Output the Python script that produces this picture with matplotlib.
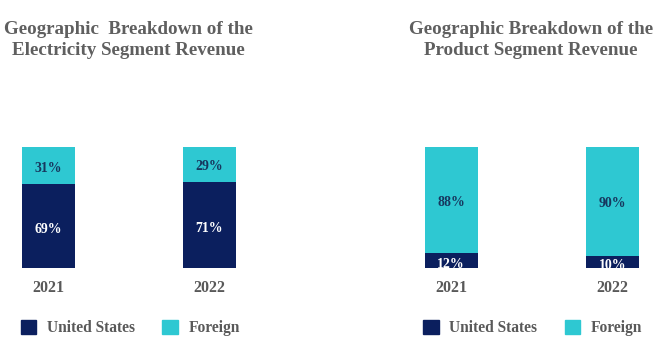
import matplotlib.pyplot as plt
from matplotlib.patches import Patch

# data
years = ["2021", "2022"]
elec_us = [69, 71]
elec_foreign = [31, 29]
prod_us = [12, 10]
prod_foreign = [88, 90]
series_names = ["United States", "Foreign"]
titles = ["Geographic  Breakdown of the\nElectricity Segment Revenue",
          "Geographic Breakdown of the\nProduct Segment Revenue"]

navy = "#0b1f5e"
cyan = "#2ec8d2"
gray = "#595959"
font = "Liberation Serif"

W, H = 666, 354
fig = plt.figure(figsize=(W / 100, H / 100), dpi=100)
plt.rcParams['font.family'] = [font, 'DejaVu Serif']
plt.rcParams['font.weight'] = 'bold'

spacing = 161.5   # px between bar centres
bar_w = 53 / spacing


def make_panel(first_center, us, foreign, title, title_x, leg_x):
    left_px = first_center - 40
    width_px = 240
    bottom_px, top_px = 268, 146.5
    ax = fig.add_axes([left_px / W, (H - bottom_px) / H,
                       width_px / W, (bottom_px - top_px) / H])
    x = [0, 1]
    ax.bar(x, us, width=bar_w, color=navy)
    ax.bar(x, foreign, width=bar_w, bottom=us, color=cyan)
    for i in x:
        t = ax.annotate(f"{us[i]}%", (i, us[i] / 2), xytext=(0, -2.5),
                        textcoords="offset points", ha="center", va="center",
                        color="white", fontsize=10, fontweight="bold")
        t.set_clip_on(True)
        t.set_clip_box(ax.bbox)
        ax.annotate(f"{foreign[i]}%", (i, us[i] + foreign[i] / 2),
                    xytext=(0, -2), textcoords="offset points",
                    ha="center", va="center", color="#17375e",
                    fontsize=10, fontweight="bold")
    ax.set_xlim(-40 / spacing, (width_px - 40) / spacing)
    ax.set_ylim(0, 100)
    ax.set_xticks(x, years)
    ax.set_yticks([])
    ax.tick_params(axis="x", length=0, pad=9, labelsize=11.5,
                   labelcolor=gray)
    for s in ax.spines.values():
        s.set_visible(False)
    ax.patch.set_visible(False)

    fig.text(title_x / W, 1 - 21.5 / H, title, ha="center", va="top",
             fontsize=13.7, fontweight="bold", color="#5f5f5f",
             linespacing=1.3)

    handles = [Patch(color=navy), Patch(color=cyan)]
    fig.legend(handles, series_names, loc="center left",
               bbox_to_anchor=(leg_x / W, (H - 328) / H),
               bbox_transform=fig.transFigure, ncol=2, frameon=False,
               labelcolor=gray, handlelength=1.0,
               handleheight=1.0, handletextpad=0.7, columnspacing=1.75,
               borderpad=0, borderaxespad=0,
               prop={"family": font, "weight": "bold", "size": 11.2})


make_panel(48, elec_us, elec_foreign, titles[0], 128, 20.5)
make_panel(451, prod_us, prod_foreign, titles[1], 531, 423)

fig.savefig("out.png", dpi=100)
